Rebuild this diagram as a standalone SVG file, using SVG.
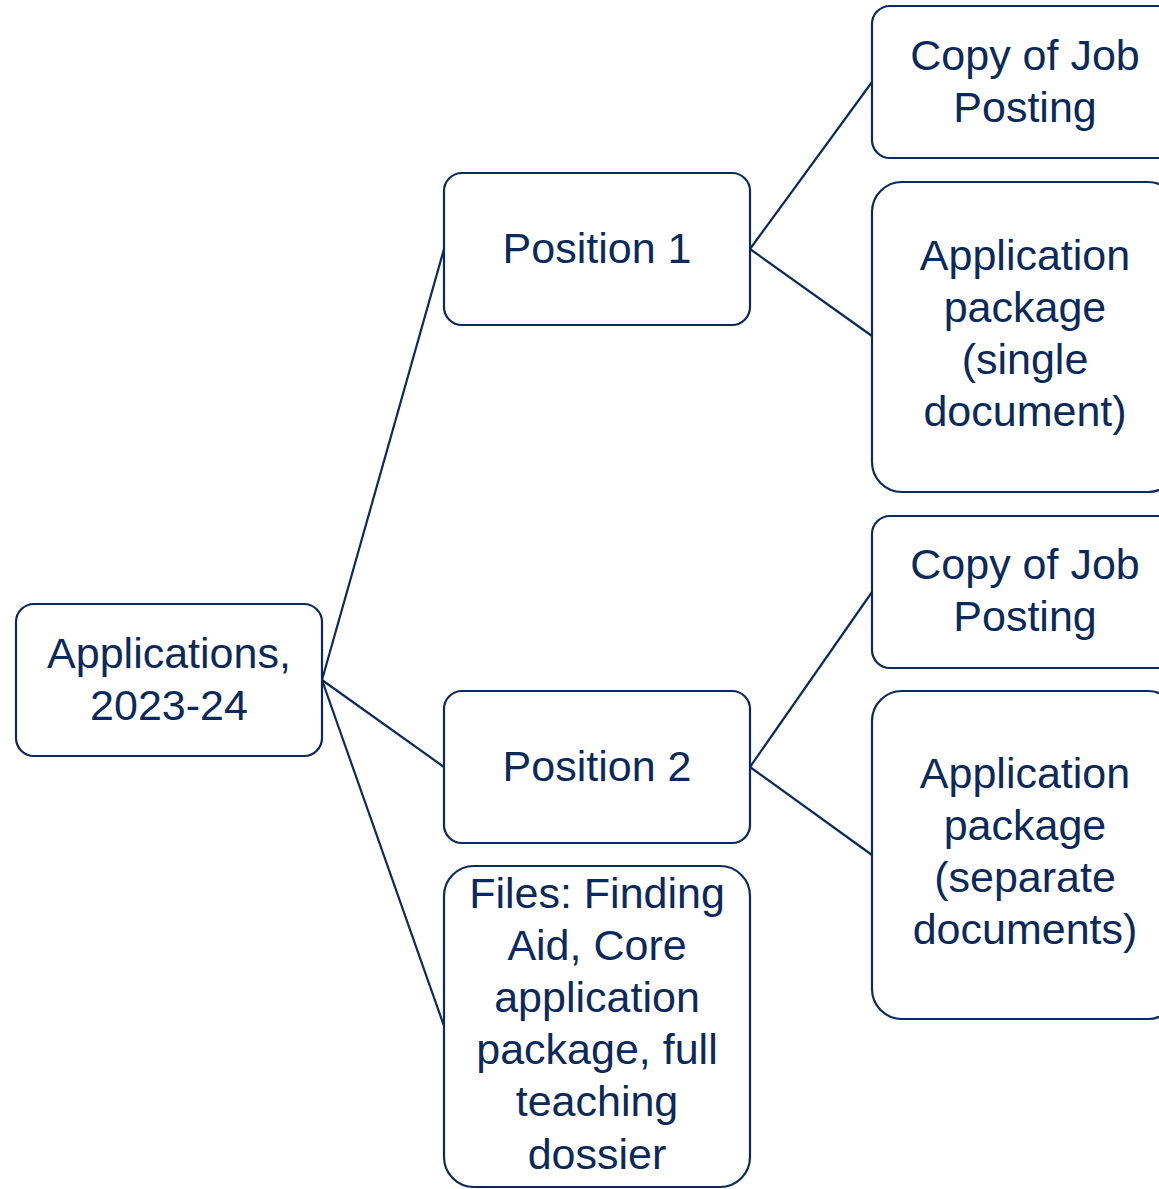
<svg xmlns="http://www.w3.org/2000/svg" width="1159" height="1189" viewBox="0 0 1159 1189">
  <style>
    .box { fill: #ffffff; stroke: #0B2A5B; stroke-width: 2.2; }
    .lbl { font-family: "Liberation Sans", Arial, sans-serif; font-size: 43px; fill: #0B2A5B; text-anchor: middle; }
    .link { stroke: #0B2A5B; stroke-width: 2.2; fill: none; }
  </style>

  <!-- connectors -->
  <g id="connectors">
    <line class="link" x1="322" y1="680" x2="444" y2="249"/>
    <line class="link" x1="322" y1="680" x2="444" y2="767"/>
    <line class="link" x1="322" y1="680" x2="444" y2="1026"/>
    <line class="link" x1="750" y1="249" x2="872" y2="82"/>
    <line class="link" x1="750" y1="249" x2="872" y2="336"/>
    <line class="link" x1="750" y1="767" x2="872" y2="592"/>
    <line class="link" x1="750" y1="767" x2="872" y2="855"/>
  </g>

  <!-- root -->
  <g id="applications">
    <rect class="box" x="16" y="604" width="306" height="152" rx="18"/>
    <text class="lbl" x="169" y="668">Applications,</text>
    <text class="lbl" x="169" y="720">2023-24</text>
  </g>

  <!-- second level -->
  <g id="position1">
    <rect class="box" x="444" y="173" width="306" height="152" rx="18"/>
    <text class="lbl" x="597" y="263">Position 1</text>
  </g>
  <g id="position2">
    <rect class="box" x="444" y="691" width="306" height="152" rx="18"/>
    <text class="lbl" x="597" y="781">Position 2</text>
  </g>
  <g id="files">
    <rect class="box" x="444" y="866" width="306" height="321" rx="30"/>
    <text class="lbl" x="597" y="908">Files: Finding</text>
    <text class="lbl" x="597" y="960">Aid, Core</text>
    <text class="lbl" x="597" y="1012">application</text>
    <text class="lbl" x="597" y="1064">package, full</text>
    <text class="lbl" x="597" y="1116">teaching</text>
    <text class="lbl" x="597" y="1169">dossier</text>
  </g>

  <!-- third level, position 1 -->
  <g id="posting1">
    <rect class="box" x="872" y="6" width="306" height="152" rx="18"/>
    <text class="lbl" x="1025" y="70">Copy of Job</text>
    <text class="lbl" x="1025" y="122">Posting</text>
  </g>
  <g id="package1">
    <rect class="box" x="872" y="182" width="306" height="310" rx="30"/>
    <text class="lbl" x="1025" y="270">Application</text>
    <text class="lbl" x="1025" y="322">package</text>
    <text class="lbl" x="1025" y="374">(single</text>
    <text class="lbl" x="1025" y="426">document)</text>
  </g>

  <!-- third level, position 2 -->
  <g id="posting2">
    <rect class="box" x="872" y="516" width="306" height="152" rx="18"/>
    <text class="lbl" x="1025" y="579">Copy of Job</text>
    <text class="lbl" x="1025" y="631">Posting</text>
  </g>
  <g id="package2">
    <rect class="box" x="872" y="691" width="306" height="328" rx="30"/>
    <text class="lbl" x="1025" y="788">Application</text>
    <text class="lbl" x="1025" y="840">package</text>
    <text class="lbl" x="1025" y="892">(separate</text>
    <text class="lbl" x="1025" y="944">documents)</text>
  </g>
</svg>
